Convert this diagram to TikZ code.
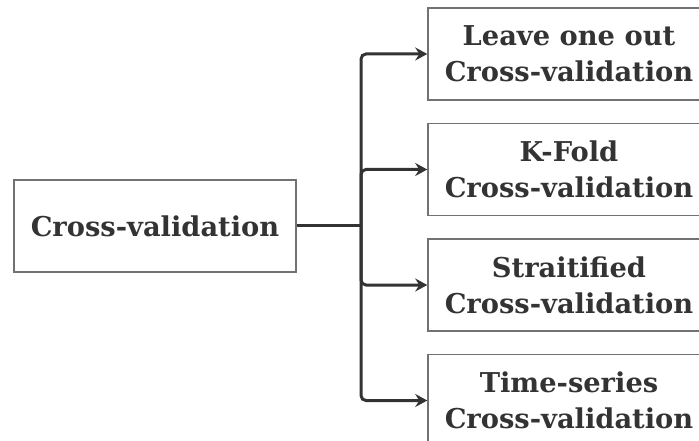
\documentclass[tikz,border=0pt]{standalone}
\usepackage{fontspec}
\setmainfont{DejaVu Serif}
\usetikzlibrary{positioning,arrows.meta}

\definecolor{inkgray}{HTML}{333333}
\definecolor{framegray}{HTML}{727272}

\tikzset{
  cvbox/.style={draw=framegray, line width=1.5bp, text=inkgray,
    minimum width=282bp, minimum height=92bp, align=center, inner sep=0pt,
    font=\bfseries\fontsize{27.4}{36}\selectfont},
  trunk/.style={draw=inkgray, line width=3bp},
  branch/.style={trunk, rounded corners=5bp,
    -{Stealth[length=12bp, width=13bp, inset=4bp]}}
}

\begin{document}
\begin{tikzpicture}[x=1bp, y=-1bp]
  \path[use as bounding box, clip] (0, 0) rectangle (699, 441);

  % Root of the tree
  \node[cvbox] (cv) at (155, 226) {Cross-validation};

  % The four kinds, stacked on the right
  \node[cvbox] (loo) at (569, 54) {Leave one out\\Cross-validation};
  \node[cvbox, below=22bp of loo] (kfold) {K-Fold\\Cross-validation};
  \node[cvbox, below=22bp of kfold] (strat) {Straitified\\Cross-validation};
  \node[cvbox, below=22bp of strat] (tseries) {Time-series\\Cross-validation};

  % Fork between root and kinds
  \coordinate (fork) at (361, 226);
  \draw[trunk] (cv.east) -- (fork);
  \foreach \kind in {loo, kfold, strat, tseries}
    \draw[branch] (fork) |- (\kind.west);
\end{tikzpicture}
\end{document}
